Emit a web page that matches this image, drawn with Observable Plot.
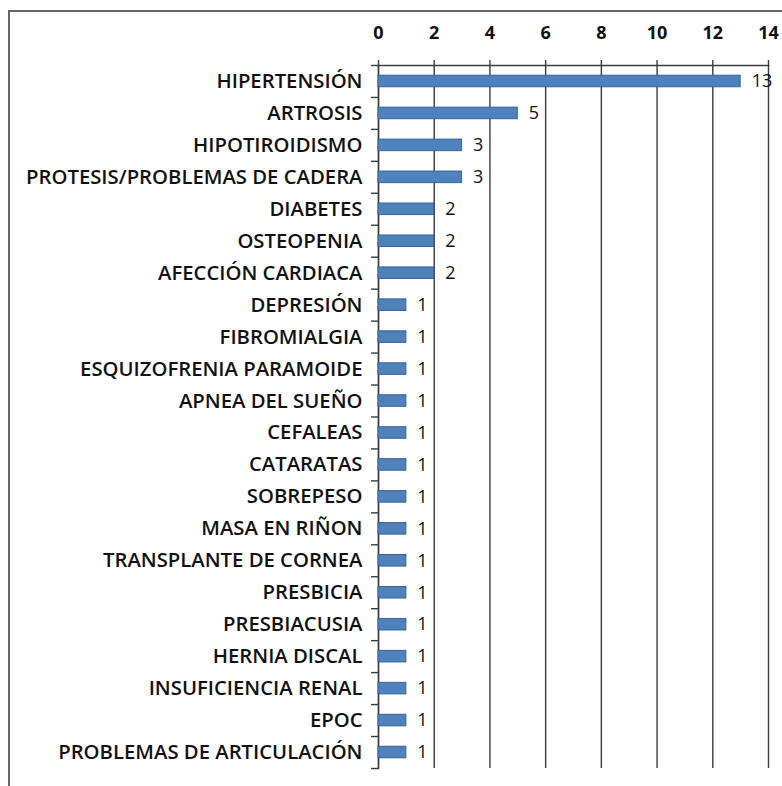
<!DOCTYPE html>
<html>
<head>
<meta charset="utf-8">
<script src="https://cdn.jsdelivr.net/npm/d3@7"></script>
<script src="https://cdn.jsdelivr.net/npm/@observablehq/plot@0.6"></script>
<style>
  html, body { margin: 0; padding: 0; background: white; overflow: hidden; }
  #wrap { position: relative; width: 782px; height: 786px; }
  #border { position: absolute; left: 8px; top: 10px; width: 900px; height: 900px; border: 2px solid #666; pointer-events: none; }
</style>
</head>
<body>
<div id="wrap"><div id="border"></div></div>
<script>
const categories = [
  "HIPERTENSIÓN", "ARTROSIS", "HIPOTIROIDISMO", "PROTESIS/PROBLEMAS DE CADERA",
  "DIABETES", "OSTEOPENIA", "AFECCIÓN CARDIACA", "DEPRESIÓN", "FIBROMIALGIA",
  "ESQUIZOFRENIA PARAMOIDE", "APNEA DEL SUEÑO", "CEFALEAS", "CATARATAS",
  "SOBREPESO", "MASA EN RIÑON", "TRANSPLANTE DE CORNEA", "PRESBICIA",
  "PRESBIACUSIA", "HERNIA DISCAL", "INSUFICIENCIA RENAL", "EPOC",
  "PROBLEMAS DE ARTICULACIÓN"
];
const values = [13, 5, 3, 3, 2, 2, 2, 1, 1, 1, 1, 1, 1, 1, 1, 1, 1, 1, 1, 1, 1, 1];
const xTicks = [0, 2, 4, 6, 8, 10, 12, 14];

const data = categories.map((name, i) => ({name, value: values[i]}));
const ink = "#3c3c3c";
const font = "'Open Sans', sans-serif";

const chart = Plot.plot({
  width: 782,
  height: 786,
  marginLeft: 378,
  marginTop: 65,
  marginRight: 14,
  marginBottom: 18,
  style: {background: "transparent", fontFamily: font, color: "#111"},
  x: {domain: [0, 14], axis: null, label: null},
  y: {domain: categories, padding: 0, round: false, axis: null, label: null},
  marks: [
    Plot.ruleX(xTicks, {stroke: ink, strokeWidth: 1.4}),
    Plot.frame({anchor: "top", stroke: ink, strokeWidth: 1.4}),
    Plot.frame({anchor: "left", stroke: ink, strokeWidth: 1.4}),
    Plot.axisX({anchor: "top", label: null, ticks: xTicks, tickSize: 6, tickPadding: 21, stroke: ink, strokeWidth: 1.4, fontSize: 18, fontWeight: "bold", fill: "#111"}),
    Plot.barX(data, {x: "value", y: "name", insetTop: 10.2, insetBottom: 10.2, fill: "#4F81BD", stroke: "#3A6394", strokeWidth: 1}),
    Plot.text(data, {x: "value", y: "name", text: d => String(d.value), textAnchor: "start", dx: 11, fontSize: 18, fill: "#111"}),
    Plot.axisY({label: null, tickSize: 0, tickPadding: 16, fontSize: 20.3, fontWeight: 600, fill: "#111"}),
    Plot.axisY({label: null, tickSize: 7, tickFormat: () => "", dy: -16, stroke: ink, strokeWidth: 1.4}),
    Plot.axisY({label: null, ticks: [categories[categories.length - 1]], tickSize: 7, tickFormat: () => "", dy: 16, stroke: ink, strokeWidth: 1.4})
  ]
});
chart.style.position = "absolute";
chart.style.left = "0";
chart.style.top = "0";
document.getElementById("wrap").appendChild(chart);
</script>
</body>
</html>
